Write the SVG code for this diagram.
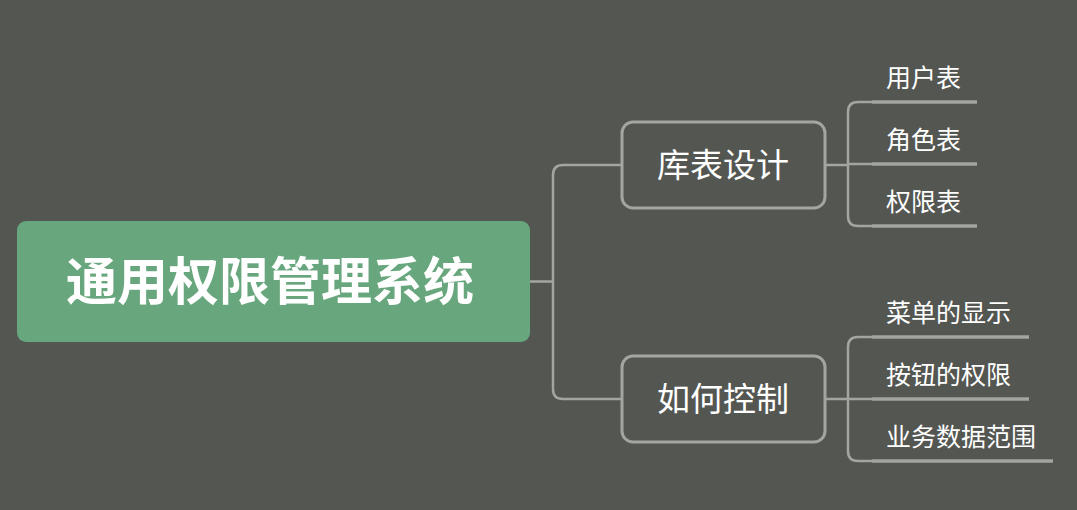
<svg xmlns="http://www.w3.org/2000/svg" width="1077" height="510" viewBox="0 0 1077 510">
<style>
.bg{fill:#545652}
.conn{fill:none;stroke:#a3a5a1;stroke-width:2.5;stroke-linecap:round;stroke-linejoin:round}
.ul{fill:none;stroke:#a3a5a1;stroke-width:3.5}
.box{fill:#545652;stroke:#a3a5a1;stroke-width:3}
.t{font-family:"Noto Sans CJK SC","Noto Sans",sans-serif;fill:#ffffff}
.leaf{font-size:25px}
.mid{font-size:33px;text-anchor:middle}
.root{font-size:51px;font-weight:bold;text-anchor:middle}
</style>
<rect class="bg" x="0" y="0" width="1077" height="510"/>
<g id="connectors">
<path class="conn" d="M530 281.5 H553 M622 165 H563 Q553 165 553 175 V389 Q553 399 563 399 H622"/>
<path class="conn" d="M825 165 H848 M872 102 H858 Q848 102 848 112 V216 Q848 226 858 226 H872 M848 164 H872"/>
<path class="conn" d="M825 399 H848 M872 337 H858 Q848 337 848 347 V451 Q848 461 858 461 H872 M848 399 H872"/>
</g>
<g id="root">
<rect x="17" y="221" width="513" height="121" rx="9" fill="#68a67d"/>
<text class="t root" x="270" y="300">通用权限管理系统</text>
</g>
<g id="n-kubiao">
<rect class="box" x="622" y="122" width="203" height="86" rx="11"/>
<text class="t mid" x="723" y="177">库表设计</text>
</g>
<g id="n-ruhe">
<rect class="box" x="622" y="356" width="203" height="86" rx="11"/>
<text class="t mid" x="723" y="411">如何控制</text>
</g>
<g id="n-yonghu">
<line class="ul" x1="872" y1="102" x2="977" y2="102"/>
<text class="t leaf" x="886" y="87">用户表</text>
</g>
<g id="n-juese">
<line class="ul" x1="872" y1="164" x2="977" y2="164"/>
<text class="t leaf" x="886" y="149">角色表</text>
</g>
<g id="n-quanxian">
<line class="ul" x1="872" y1="226" x2="977" y2="226"/>
<text class="t leaf" x="886" y="211">权限表</text>
</g>
<g id="n-caidan">
<line class="ul" x1="872" y1="337" x2="1029" y2="337"/>
<text class="t leaf" x="886" y="322">菜单的显示</text>
</g>
<g id="n-anniu">
<line class="ul" x1="872" y1="399" x2="1029" y2="399"/>
<text class="t leaf" x="886" y="384">按钮的权限</text>
</g>
<g id="n-yewu">
<line class="ul" x1="872" y1="461" x2="1053" y2="461"/>
<text class="t leaf" x="886" y="446">业务数据范围</text>
</g>
</svg>
